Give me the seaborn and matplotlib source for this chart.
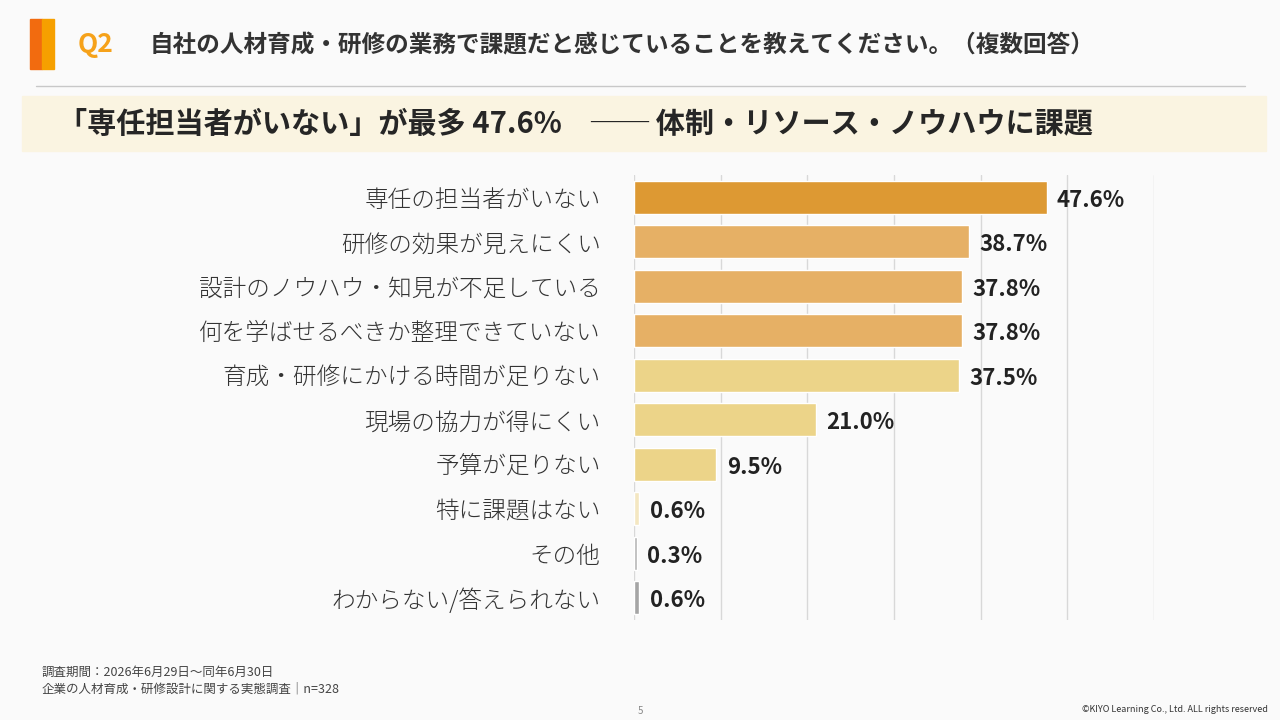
import pandas as pd
import matplotlib.pyplot as plt
import seaborn as sns
from matplotlib.patches import Rectangle

sns.set_style("white")
plt.rcParams['font.family'] = ['Noto Sans CJK JP', 'DejaVu Sans']

labels = ["専任の担当者がいない", "研修の効果が見えにくい", "設計のノウハウ・知見が不足している",
          "何を学ばせるべきか整理できていない", "育成・研修にかける時間が足りない",
          "現場の協力が得にくい", "予算が足りない", "特に課題はない", "その他", "わからない/答えられない"]
values = [47.6, 38.7, 37.8, 37.8, 37.5, 21.0, 9.5, 0.6, 0.3, 0.6]
colors = ["#F99E17", "#FBB350", "#FBB350", "#FBB350", "#FDDC78", "#FDDC78", "#FDDC78",
          "#FDEBB8", "#B5B5B5", "#A5A5A5"]

df = pd.DataFrame({"label": labels, "value": values})

fig = plt.figure(figsize=(12.8, 7.2), dpi=100)
fig.patch.set_facecolor("#FAFAFA")

# header
fig.patches.append(Rectangle((30/1280, 1-69/720), 12/1280, 50/720, transform=fig.transFigure, color="#F26B0F"))
fig.patches.append(Rectangle((42/1280, 1-69/720), 12/1280, 50/720, transform=fig.transFigure, color="#F6A000"))
fig.text(78/1280, 1-45/720, "Q2", color="#F6A21A", fontsize=19, fontweight="bold", va="center")
fig.text(150/1280, 1-45/720, "自社の人材育成・研修の業務で課題だと感じていることを教えてください。（複数回答）",
         color="#333333", fontsize=17, fontweight="bold", va="center")
fig.lines.append(plt.Line2D([36/1280, 1245/1280], [1-86/720, 1-86/720], transform=fig.transFigure, color="#C8C8C8", lw=1))
fig.patches.append(Rectangle((22/1280, 1-151/720), 1244/1280, 55/720, transform=fig.transFigure, color="#FAF4E1"))
fig.text(58/1280, 1-124/720, "「専任担当者がいない」が最多 47.6%　── 体制・リソース・ノウハウに課題",
         color="#262626", fontsize=21, fontweight="bold", va="center")

ax = fig.add_axes([634/1280, 100/720, 520/1280, 445/720])
ax.set_facecolor("#FAFAFA")
sns.barplot(data=df, x="value", y="label", hue="label", palette=colors, legend=False,
            width=0.75, ax=ax, orient="h")
ax.set_xlim(0, 60)
ax.set_xticks(range(0, 61, 10))
ax.grid(axis="x", color="#D8D8D8", lw=1)
ax.set_axisbelow(True)
ax.tick_params(axis="x", length=0, labelbottom=False)
ax.tick_params(axis="y", length=0, labelsize=17, labelcolor="#333333", pad=24)
for lbl in ax.get_yticklabels():
    lbl.set_fontweight("light")
ax.set_xlabel("")
ax.set_ylabel("")
for s in ax.spines.values():
    s.set_visible(False)
for i, v in enumerate(values):
    ax.text(v + 1.2, i + 0.07, f"{v:.1f}%", va="center", ha="left", fontsize=16,
            fontweight="bold", color="#222222")

fig.text(42/1280, 1-672/720, "調査期間：2026年6月29日～同年6月30日", fontsize=9, color="#444444", va="center")
fig.text(42/1280, 1-689/720, "企業の人材育成・研修設計に関する実態調査｜n=328", fontsize=9, color="#444444", va="center")
fig.text(640/1280, 1-711/720, "5", fontsize=7, color="#888888", ha="center", va="center")
fig.text(1268/1280, 1-709/720, "©KIYO Learning Co., Ltd. ALL rights reserved", fontsize=6.5,
         color="#333333", ha="right", va="center")

fig.savefig("out.png", dpi=100, facecolor=fig.get_facecolor())
